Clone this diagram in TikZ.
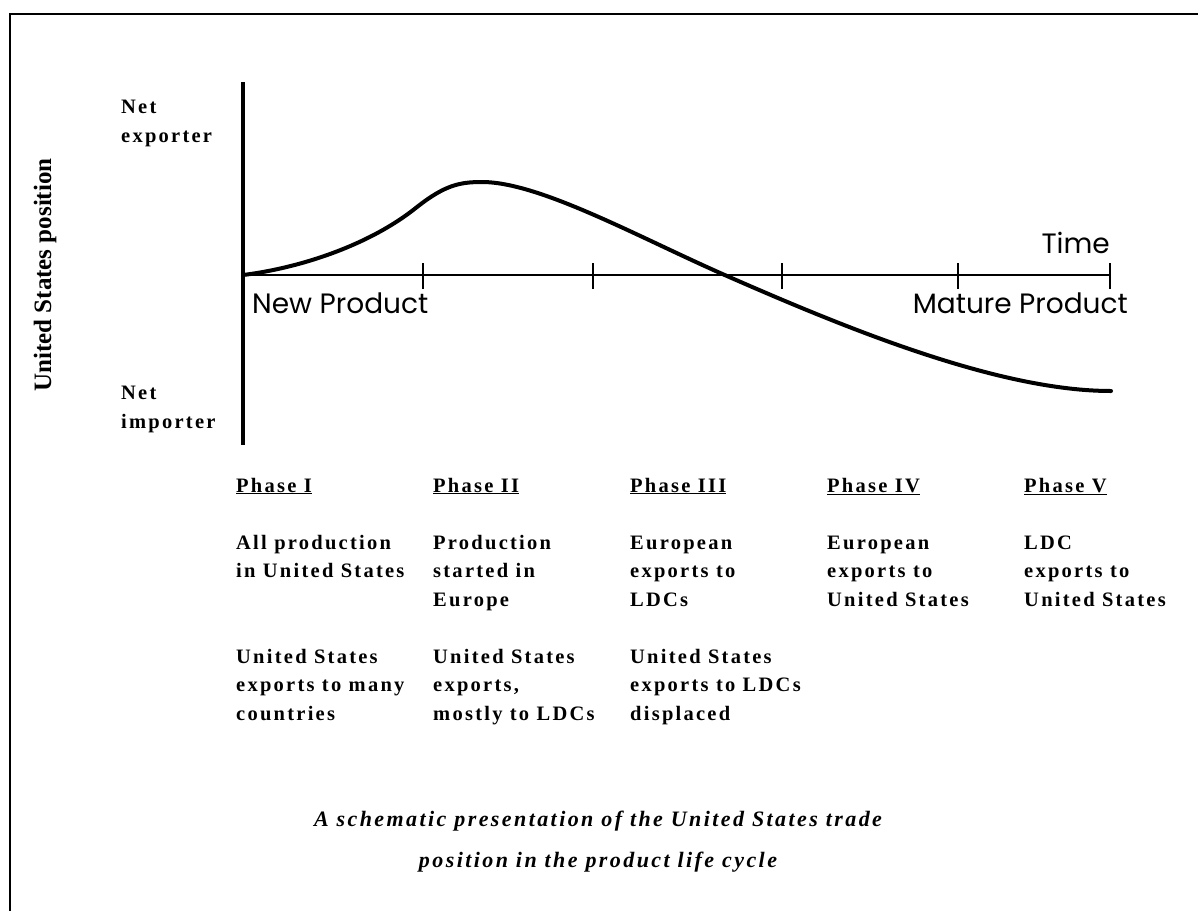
\documentclass[tikz,border=0pt]{standalone}
\usepackage{fontspec}
\setmainfont{Liberation Serif}
\newfontfamily\curvefont{Poppins}
\newfontfamily\spacedfont[LetterSpace=11]{Liberation Serif}
\usetikzlibrary{calc}
\usetikzlibrary{positioning}

\begin{document}
\begin{tikzpicture}[
		x=1pt,
		y=-1pt,
		font=\spacedfont\bfseries\fontsize{20.5}{28.5}\selectfont,
		every node/.style={inner sep=0}
	]
		\tikzset{
			axis/.style={line width=2.4},
			tick/.style={line width=2.6},
			trade/.style={line width=4, line cap=round},
			curvelabel/.style={font=\curvefont\fontsize{28}{28}\selectfont},
			phasehead/.style={anchor=base west},
			phasetext/.style={anchor=base west, align=left},
		}

		\useasboundingbox (0,0) rectangle (1198,911);
		\draw[line width=1.6] (10,911) -- (10,14) -- (1198,14);

		% axes
		\coordinate (origin) at (243,275);
		\coordinate (ytop) at (243,82);
		\coordinate (ybot) at (243,445);
		\coordinate (xend) at (1110,275);
		\draw[line width=3.2] (ytop) -- (ybot);
		\draw[axis] (origin) -- (xend);
		\foreach \tx/\name in {423/t1, 593/t2, 782/t3, 958/t4, 1110/t5} {
			\coordinate (\name) at (\tx,275);
			\draw[tick] ($(\name)+(0,-12)$) -- ($(\name)+(0,14)$);
		}

		% trade position
		\coordinate (peak) at (482,182);
		\coordinate (cross) at (727,276);
		\coordinate (last) at (1111,391);
		\draw[trade] (origin) .. controls (300,268) and (370,245) .. (417,207)
			.. controls (445,185) and (460,182) .. (peak)
			.. controls (540,182) and (640,238) .. (cross)
			.. controls (850,330) and (1000,391) .. (last);

		\node[curvelabel, anchor=base west] (new) at (252,313) {New Product};
		\node[curvelabel, anchor=base east] (time) at (1110,253) {Time};
		\node[curvelabel, anchor=base east] (mature) at (1128,313) {Mature Product};

		% y axis labels (base = last line)
		\node[rotate=90, font=\rmfamily\bfseries\fontsize{25}{25}\selectfont] (position) at (45,275) {United States position};
		\node[phasetext] (exporter) at (121,142) {Net\\exporter};
		\node[phasetext] (importer) at (121,428) {Net\\importer};

		% phases
		\node[phasehead] (phase1) at (236,492) {\underline{Phase I}};
		\node[phasehead] (phase2) at (433,492) {\underline{Phase II}};
		\node[phasehead] (phase3) at (630,492) {\underline{Phase III}};
		\node[phasehead] (phase4) at (827,492) {\underline{Phase IV}};
		\node[phasehead] (phase5) at (1024,492) {\underline{Phase V}};

		\node[phasetext] (prod1) at (236,577.5) {All production\\in United States};
		\node[phasetext] (prod2) at (433,606) {Production\\started in\\Europe};
		\node[phasetext] (prod3) at (630,606) {European\\exports to\\LDCs};
		\node[phasetext] (prod4) at (827,606) {European\\exports to\\United States};
		\node[phasetext] (prod5) at (1024,606) {LDC\\exports to\\United States};

		\node[phasetext] (us1) at (236,720) {United States\\exports to many\\countries};
		\node[phasetext] (us2) at (433,720) {United States\\exports,\\mostly to LDCs};
		\node[phasetext] (us3) at (630,720) {United States\\exports to LDCs\\displaced};

		% caption
		\node[align=center, anchor=base, font=\spacedfont\bfseries\itshape\fontsize{22}{41}\selectfont] (caption) at (598,867)
			{A schematic presentation of the United States trade\\position in the product life cycle};
	\end{tikzpicture}
\end{document}
